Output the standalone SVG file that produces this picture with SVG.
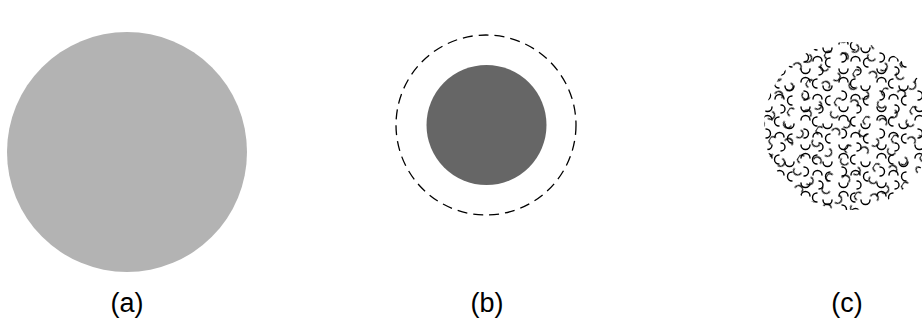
<svg xmlns="http://www.w3.org/2000/svg" width="922" height="323" viewBox="0 0 922 323">
<style>
.lbl{font-family:"Liberation Sans",Arial,sans-serif;font-size:27px;fill:#000;text-anchor:middle}
.arc{fill:none;stroke:#000;stroke-width:1.4;stroke-linecap:round}
</style>
<defs>
<pattern id="t1" patternUnits="userSpaceOnUse" width="38" height="38">
<g class="arc">
<path d="M3 6a4.5 4.5 0 0 1 9 0"/>
<path d="M19 3a4.5 4.5 0 0 0 0 9"/>
<path d="M25 10a4.5 4.5 0 0 0 9 0"/>
<path d="M6 15a4.5 4.5 0 0 1 0 9"/>
<path d="M15 23a4.5 4.5 0 0 1 9 0"/>
<path d="M32 20a4.5 4.5 0 0 0 0 9"/>
<path d="M3 31a4.5 4.5 0 0 0 9 0"/>
<path d="M21 29a4 4 0 0 1 0 8"/>
</g>
</pattern>
<pattern id="t2" patternUnits="userSpaceOnUse" width="34" height="34" patternTransform="rotate(33) translate(7 11)">
<g class="arc">
<path d="M3 4a4 4 0 0 0 8 0"/>
<path d="M22 2a4 4 0 0 1 0 8"/>
<path d="M14 19a4 4 0 0 1 8 0"/>
<path d="M4 22a4 4 0 0 0 0 8"/>
</g>
</pattern>
<clipPath id="cc"><circle cx="848" cy="126" r="84"/></clipPath>
</defs>
<g id="node-a">
<circle cx="127" cy="152" r="120" fill="#b3b3b3"/>
<text class="lbl" x="127" y="312">(a)</text>
</g>
<g id="node-b">
<circle cx="486" cy="125" r="90" fill="none" stroke="#000" stroke-width="1.3" stroke-dasharray="10 6"/>
<circle cx="486.5" cy="125" r="60" fill="#666"/>
<text class="lbl" x="487" y="312">(b)</text>
</g>
<g id="node-c">
<g clip-path="url(#cc)">
<rect x="760" y="40" width="176" height="172" fill="url(#t1)"/>
<rect x="760" y="40" width="176" height="172" fill="url(#t2)"/>
</g>
<text class="lbl" x="847" y="312">(c)</text>
</g>
<g id="connectors"/>
</svg>
